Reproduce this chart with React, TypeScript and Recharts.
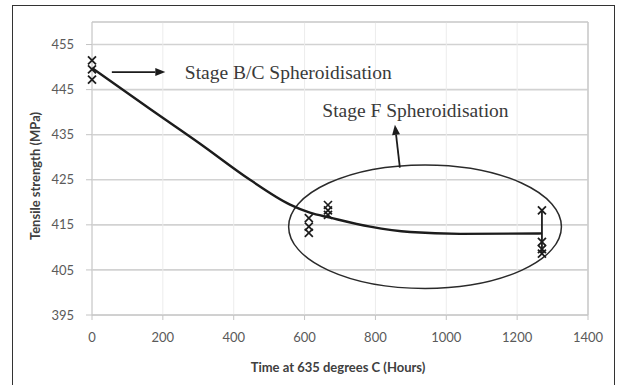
import React from 'react';
import {
  ComposedChart,
  Line,
  Scatter,
  XAxis,
  YAxis,
  CartesianGrid,
  ReferenceLine,
  ReferenceArea,
  ReferenceDot,
} from 'recharts';

// ---------------------------------------------------------------------------
// Data
// ---------------------------------------------------------------------------

const X_TICKS = [0, 200, 400, 600, 800, 1000, 1200, 1400];
const Y_TICKS = [395, 405, 415, 425, 435, 445, 455];

// individual tensile test results
const MEASURED = [
  { x: 0, y: 451.5 },
  { x: 0, y: 449.5 },
  { x: 0, y: 447.2 },
  { x: 612, y: 416.5 },
  { x: 612, y: 414.6 },
  { x: 612, y: 413.2 },
  { x: 666, y: 419.4 },
  { x: 666, y: 418.2 },
  { x: 666, y: 417.2 },
  { x: 1270, y: 418.2 },
  { x: 1270, y: 411.2 },
  { x: 1270, y: 409.6 },
  { x: 1270, y: 408.6 },
];

// smoothed trend curve, read along its path
const TREND = [
  { x: 0, y: 449.8 },
  { x: 164, y: 440.7 },
  { x: 305, y: 433.0 },
  { x: 446, y: 425.0 },
  { x: 559, y: 419.5 },
  { x: 615, y: 417.7 },
  { x: 672, y: 416.6 },
  { x: 785, y: 414.6 },
  { x: 898, y: 413.4 },
  { x: 1039, y: 413.0 },
  { x: 1270, y: 413.1 },
];

// spread of the last group
const LAST_SPREAD = [
  { x: 1270, y: 418.2 },
  { x: 1270, y: 408.6 },
];

const INK = '#1c1c1c';
const GRID = '#d2d2d2';

// ---------------------------------------------------------------------------
// Shapes
// ---------------------------------------------------------------------------

function XMark({ cx, cy }: { cx?: number; cy?: number }) {
  if (cx == null || cy == null) return null;
  const s = 4;
  return (
    <g stroke={INK} strokeWidth={1.7}>
      <line x1={cx - s} y1={cy - s} x2={cx + s} y2={cy + s} />
      <line x1={cx - s} y1={cy + s} x2={cx + s} y2={cy - s} />
    </g>
  );
}

function Arrow(props: any) {
  const { x1, y1, x2, y2 } = props;
  if ([x1, y1, x2, y2].some((v) => v == null)) return null;
  const dx = x2 - x1;
  const dy = y2 - y1;
  const len = Math.hypot(dx, dy) || 1;
  const ux = dx / len;
  const uy = dy / len;
  const head = 10;
  const half = 4;
  const bx = x2 - ux * head;
  const by = y2 - uy * head;
  return (
    <g>
      <line x1={x1} y1={y1} x2={bx} y2={by} stroke={INK} strokeWidth={1.8} />
      <polygon
        points={`${x2},${y2} ${bx - uy * half},${by + ux * half} ${bx + uy * half},${by - ux * half}`}
        fill={INK}
      />
    </g>
  );
}

function Ellipse(props: any) {
  const { x, y, width, height } = props;
  if (x == null) return null;
  return (
    <ellipse
      cx={x + width / 2}
      cy={y + height / 2}
      rx={Math.abs(width) / 2}
      ry={Math.abs(height) / 2}
      fill="none"
      stroke="#2a2a2a"
      strokeWidth={1.5}
    />
  );
}

function note(text: string) {
  return (props: any) => (
    <text
      x={props.cx}
      y={props.cy}
      dominantBaseline="central"
      fontFamily="'Liberation Serif', serif"
      fontSize={19.5}
      fill="#3a3a3a"
    >
      {text}
    </text>
  );
}

// ---------------------------------------------------------------------------
// App
// ---------------------------------------------------------------------------

const tickStyle = { fontFamily: 'Lato, sans-serif', fontSize: 13, fill: '#5a5a5a' };

export default function App() {
  return (
    <div style={{ position: 'absolute', left: 0, top: 0, width: 625, height: 385, background: '#fff', overflow: 'hidden' }}>
      <div
        style={{
          position: 'absolute',
          left: 12,
          top: 5,
          width: 603,
          height: 400,
          border: '1.5px solid #333',
          boxSizing: 'border-box',
        }}
      />
      <div style={{ position: 'absolute', left: 0, top: 0 }}>
        <ComposedChart width={625} height={385} margin={{ top: 22, right: 37, bottom: 40, left: 42 }}>
          <CartesianGrid stroke={GRID} strokeWidth={1.6} vertical={false} />
          <CartesianGrid stroke="#ececec" strokeWidth={1} horizontal={false} />
          <XAxis
            type="number"
            dataKey="x"
            domain={[0, 1400]}
            ticks={X_TICKS}
            interval={0}
            tick={tickStyle}
            tickSize={5}
            tickMargin={13}
            stroke="#c4c4c4"
          />
          <YAxis
            type="number"
            dataKey="y"
            domain={[395, 460]}
            ticks={Y_TICKS}
            interval={0}
            width={50}
            tick={tickStyle}
            tickSize={6}
            tickMargin={12}
            stroke="#c4c4c4"
          />
          {/* plot area frame */}
          <ReferenceLine y={460} stroke={GRID} strokeWidth={1.6} ifOverflow="visible" />
          <ReferenceLine x={1400} stroke="#c8c8c8" strokeWidth={1.5} ifOverflow="visible" />

          <ReferenceArea x1={555} x2={1325} y1={400.9} y2={428.3} shape={Ellipse} ifOverflow="visible" />

          <Line
            data={TREND}
            dataKey="y"
            type="monotone"
            stroke={INK}
            strokeWidth={2.4}
            dot={false}
            activeDot={false}
            isAnimationActive={false}
          />
          <Line
            data={LAST_SPREAD}
            dataKey="y"
            type="linear"
            stroke={INK}
            strokeWidth={1.8}
            dot={false}
            activeDot={false}
            isAnimationActive={false}
          />
          <Scatter data={MEASURED} dataKey="y" shape={XMark} isAnimationActive={false} />

          <ReferenceLine
            segment={[{ x: 56, y: 448.9 }, { x: 207, y: 448.9 }]}
            shape={Arrow}
            ifOverflow="visible"
          />
          <ReferenceLine
            segment={[{ x: 869, y: 427.7 }, { x: 855, y: 437.2 }]}
            shape={Arrow}
            ifOverflow="visible"
          />
          <ReferenceDot x={262} y={448.9} r={0} shape={note('Stage B/C Spheroidisation')} ifOverflow="visible" />
          <ReferenceDot x={650} y={440.3} r={0} shape={note('Stage F Spheroidisation')} ifOverflow="visible" />
        </ComposedChart>
      </div>
      <div
        style={{
          position: 'absolute',
          left: 0,
          width: 676,
          top: 359,
          textAlign: 'center',
          fontFamily: 'Lato, sans-serif',
          fontWeight: 700,
          fontSize: 13,
          color: '#404040',
        }}
      >
        Time at 635 degrees C (Hours)
      </div>
      <div
        style={{
          position: 'absolute',
          left: 35,
          top: 176,
          transform: 'translate(-50%, -50%) rotate(-90deg)',
          whiteSpace: 'nowrap',
          fontFamily: 'Lato, sans-serif',
          fontWeight: 700,
          fontSize: 13,
          color: '#404040',
        }}
      >
        Tensile strength (MPa)
      </div>
    </div>
  );
}
